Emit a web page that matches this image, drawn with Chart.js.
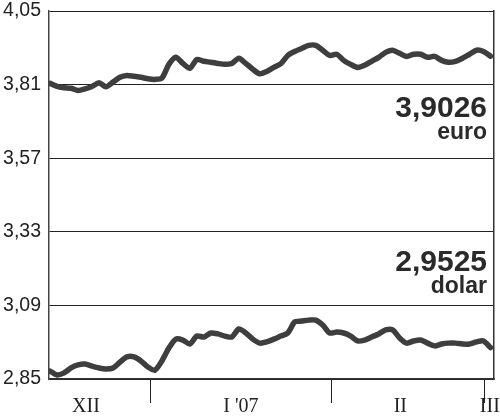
<!DOCTYPE html>
<html lang="pl">
<head>
  <meta charset="UTF-8">
  <title>Kursy walut</title>
  <script src="https://cdn.jsdelivr.net/npm/chart.js"></script>
  <style>
    html, body { margin: 0; padding: 0; background: #fff; }
    #wrap { width: 500px; height: 418px; }
  </style>
</head>
<body>
  <div id="wrap"><canvas id="kursy"></canvas></div>
  <script>
    // osie
    const yTicks = [2.85, 3.09, 3.33, 3.57, 3.81, 4.05];
    const monthBounds = [14.43, 40.29, 62.14];          // granice miesiecy (w dniach sesji)
    const monthLabels = ['XII', "I '07", 'II', 'III'];
    const monthLabelPos = [5.14, 27.3, 50.1, 62.9];

    // dni sesyjne
    const days = [0, 1, 2, 3, 4, 5, 6, 7, 8, 9, 10, 11, 12, 13, 14, 15, 16, 17, 18, 19,
      20, 21, 22, 23, 24, 25, 26, 27, 28, 29, 30, 31, 32, 33, 34, 35, 36, 37, 38, 39,
      40, 41, 42, 43, 44, 45, 46, 47, 48, 49, 50, 51, 52, 53, 54, 55, 56, 57, 58, 59,
      60, 61, 62, 63];

    const euro = [3.814, 3.804, 3.800, 3.798, 3.791, 3.796, 3.804, 3.816, 3.803, 3.818,
      3.834, 3.840, 3.837, 3.834, 3.829, 3.827, 3.831, 3.876, 3.899, 3.879,
      3.863, 3.892, 3.886, 3.883, 3.879, 3.876, 3.879, 3.896, 3.879, 3.860,
      3.845, 3.853, 3.866, 3.878, 3.905, 3.918, 3.928, 3.938, 3.938, 3.922,
      3.905, 3.909, 3.889, 3.876, 3.866, 3.873, 3.886, 3.899, 3.915, 3.922,
      3.912, 3.902, 3.909, 3.909, 3.899, 3.902, 3.889, 3.883, 3.886, 3.896,
      3.909, 3.922, 3.918, 3.9026];

    const dolar = [2.876, 2.863, 2.870, 2.886, 2.896, 2.899, 2.892, 2.886, 2.883, 2.886,
      2.905, 2.922, 2.922, 2.909, 2.889, 2.879, 2.909, 2.951, 2.980, 2.977,
      2.964, 2.990, 2.987, 3.000, 2.997, 2.990, 2.987, 3.013, 3.000, 2.980,
      2.967, 2.971, 2.980, 2.990, 3.000, 3.036, 3.039, 3.042, 3.042, 3.026,
      3.000, 3.003, 3.000, 2.990, 2.974, 2.977, 2.987, 2.997, 3.010, 3.010,
      2.984, 2.967, 2.974, 2.977, 2.967, 2.958, 2.964, 2.967, 2.967, 2.964,
      2.964, 2.971, 2.974, 2.9525];

    const euroLast = '3,9026';
    const dolarLast = '2,9525';

    const fmt = v => v.toFixed(2).replace('.', ',');

    // ticki osi X: granice miesiecy (kreski) + podpisy miesiecy (bez kresek)
    const xTickList = monthBounds.map(v => ({ value: v, label: '', mark: true }))
      .concat(monthLabelPos.map((v, i) => ({ value: v, label: monthLabels[i], mark: false })))
      .sort((a, b) => a.value - b.value);

    // bez dodatkowych marginesow od podpisow - uklad ustawiany recznie
    const noPad = scale => {
      scale.paddingTop = 0;
      scale.paddingBottom = 0;
      scale.paddingLeft = 0;
      scale.paddingRight = 0;
    };

    // podpisy z ostatnim kursem
    const lastValues = {
      id: 'lastValues',
      afterDatasetsDraw(chart) {
        const { ctx, chartArea, scales } = chart;
        const xr = chartArea.right - 7;
        ctx.save();
        ctx.fillStyle = '#2a2a2a';
        ctx.textAlign = 'right';
        ctx.textBaseline = 'alphabetic';

        const yE = scales.y.getPixelForValue(3.81);
        ctx.font = 'bold 30px "Liberation Sans"';
        ctx.fillText(euroLast, xr, yE + 32);
        ctx.font = 'bold 23px "Liberation Sans"';
        ctx.fillText('euro', xr, yE + 54);

        const yD = scales.y.getPixelForValue(3.09);
        ctx.font = 'bold 30px "Liberation Sans"';
        ctx.fillText(dolarLast, xr, yD - 34);
        ctx.font = 'bold 23px "Liberation Sans"';
        ctx.fillText('dolar', xr, yD - 12);
        ctx.restore();
      }
    };

    const lineStyle = {
      borderColor: '#3e3e3e',
      borderWidth: 5.5,
      pointRadius: 0,
      tension: 0.25,
      borderJoinStyle: 'round',
      borderCapStyle: 'round',
      fill: false
    };

    const ctx = document.getElementById('kursy').getContext('2d');
    const chart = new Chart(ctx, {
      type: 'line',
      data: {
        datasets: [
          Object.assign({ label: 'euro', data: days.map((d, i) => ({ x: d, y: euro[i] })) }, lineStyle),
          Object.assign({ label: 'dolar', data: days.map((d, i) => ({ x: d, y: dolar[i] })) }, lineStyle)
        ]
      },
      options: {
        responsive: true,
        maintainAspectRatio: false,
        animation: false,
        layout: { padding: { top: 11, left: 0, right: 0, bottom: 0 } },
        plugins: {
          legend: { display: false },
          tooltip: { enabled: false }
        },
        scales: {
          x: {
            type: 'linear',
            min: -0.15,
            max: 63.5,
            afterBuildTicks: scale => { scale.ticks = xTickList.map(t => ({ value: t.value })); },
            afterFit: scale => { scale.height = 39; noPad(scale); },
            grid: {
              drawOnChartArea: false,
              tickLength: 24,
              tickWidth: 1,
              tickColor: c => (xTickList[c.index] && xTickList[c.index].mark) ? '#222' : 'rgba(0,0,0,0)'
            },
            border: { display: true, color: '#333', width: 1.5 },
            ticks: {
              autoSkip: false,
              maxRotation: 0,
              padding: -8,
              color: '#222',
              font: { family: '"Liberation Serif"', size: 20 },
              callback: (v, i) => xTickList[i] ? xTickList[i].label : ''
            }
          },
          y: {
            min: 2.85,
            max: 4.05,
            afterBuildTicks: scale => { scale.ticks = yTicks.map(v => ({ value: v })); },
            afterFit: scale => { scale.width = 49; noPad(scale); },
            grid: { color: '#222', lineWidth: 1, drawTicks: false },
            border: { display: true, color: '#444', width: 1.5 },
            ticks: {
              padding: 8,
              color: '#222',
              font: { family: '"Liberation Sans"', size: 19.5 },
              callback: v => fmt(v)
            }
          },
          yR: {
            position: 'right',
            min: 2.85,
            max: 4.05,
            afterFit: scale => { scale.width = 6; noPad(scale); },
            grid: { display: false },
            border: { display: true, color: '#333', width: 1.5 },
            ticks: { display: false }
          }
        }
      },
      plugins: [lastValues]
    });
  </script>
</body>
</html>
